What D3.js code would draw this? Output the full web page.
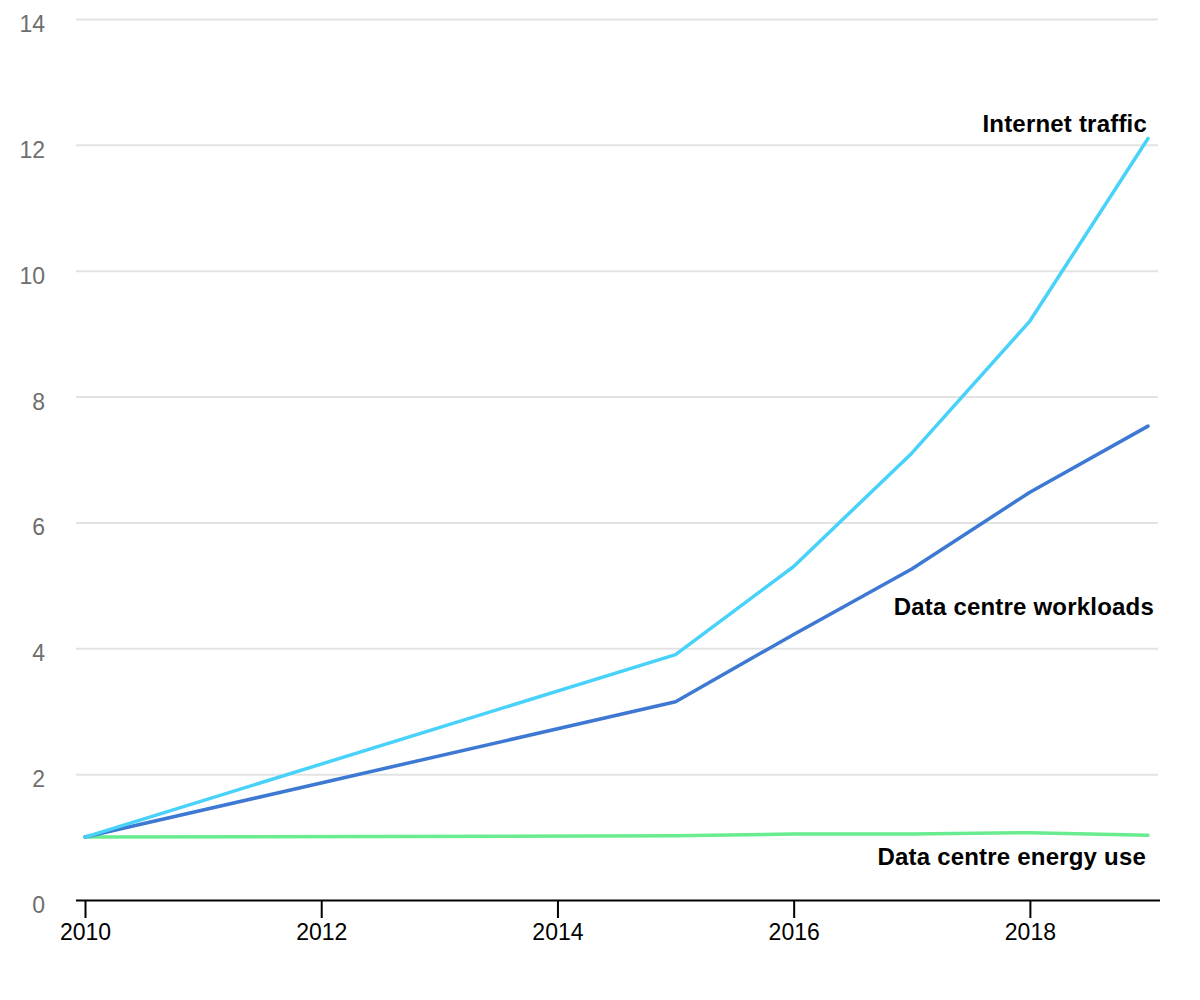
<!DOCTYPE html>
<html>
<head>
<meta charset="utf-8">
<script src="https://cdn.jsdelivr.net/npm/d3@7"></script>
<style>
  body { margin: 0; background: #fff; }
  text { font-family: "Liberation Sans", Arial, sans-serif; }
</style>
</head>
<body>
<div id="chart"></div>
<script>
var years = [2010, 2015, 2016, 2017, 2018, 2019];
var internetTraffic = [1, 3.9, 5.3, 7.1, 9.2, 12.1];
var workloads = [1, 3.15, 4.22, 5.26, 6.48, 7.53];
var energyUse = [1, 1.02, 1.05, 1.05, 1.07, 1.03];
var yTicks = [0, 2, 4, 6, 8, 10, 12, 14];
var xTicks = [2010, 2012, 2014, 2016, 2018];

var svgWidth = 1200;
var svgHeight = 1000;
var margin = { top: 19, right: 52, bottom: 100, left: 76 };
var width = svgWidth - margin.left - margin.right;
var height = svgHeight - margin.top - margin.bottom;

var svg = d3.select('#chart')
    .append('svg')
    .attr('width', svgWidth)
    .attr('height', svgHeight);

var chartGroup = svg.append('g')
    .attr('transform', `translate(${margin.left},${margin.top})`);

// scales
var xScale = d3.scaleLinear()
    .domain([2010, 2019])
    .range([9, 1072]);

var yScale = d3.scaleLinear()
    .domain([0, 14])
    .range([height, 0]);

// gridlines + y labels
var leftAxis = d3.axisLeft(yScale)
    .tickValues(yTicks)
    .tickSize(-1082)
    .tickPadding(31)
    .tickFormat(d3.format('d'));

var yAxis = chartGroup.append('g').call(leftAxis);
yAxis.select('.domain').remove();
yAxis.selectAll('line')
    .attr('stroke', '#e3e3e3')
    .attr('stroke-width', 2)
    .filter(d => d === 0).remove();
yAxis.selectAll('text')
    .attr('fill', '#6e6e6e')
    .attr('font-size', '23px')
    .attr('dy', '12.5px');

// x axis
var bottomAxis = d3.axisBottom(xScale)
    .tickValues(xTicks)
    .tickSize(18)
    .tickPadding(6)
    .tickFormat(d3.format('d'));

var xAxis = chartGroup.append('g')
    .attr('transform', `translate(0,${height})`)
    .call(bottomAxis);
xAxis.select('.domain')
    .attr('d', 'M0,0.5H1084')
    .attr('stroke', '#000')
    .attr('stroke-width', 2);
xAxis.selectAll('line').attr('stroke', '#000').attr('stroke-width', 2);
xAxis.selectAll('text')
    .attr('fill', '#000')
    .attr('font-size', '23px');

// lines
var series = [
    { name: 'Data centre energy use', values: energyUse, color: '#68ec8f' },
    { name: 'Data centre workloads', values: workloads, color: '#3d78d3' },
    { name: 'Internet traffic', values: internetTraffic, color: '#48d2fa' }
];

var line = d3.line()
    .x((d, i) => xScale(years[i]))
    .y(d => yScale(d));

chartGroup.selectAll('.series')
    .data(series)
    .enter()
    .append('path')
    .attr('class', 'series')
    .attr('d', d => line(d.values))
    .attr('fill', 'none')
    .attr('stroke', d => d.color)
    .attr('stroke-width', 3.5)
    .attr('stroke-linejoin', 'round')
    .attr('stroke-linecap', 'round');

// labels
var labels = [
    { text: 'Internet traffic', x: 1147, y: 132 },
    { text: 'Data centre workloads', x: 1154, y: 615 },
    { text: 'Data centre energy use', x: 1146, y: 865 }
];

svg.selectAll('.lbl')
    .data(labels)
    .enter()
    .append('text')
    .attr('class', 'lbl')
    .attr('x', d => d.x)
    .attr('y', d => d.y)
    .attr('text-anchor', 'end')
    .attr('font-size', '24px')
    .attr('letter-spacing', '0.2px')
    .attr('font-weight', 'bold')
    .attr('fill', '#000')
    .text(d => d.text);
</script>
</body>
</html>
